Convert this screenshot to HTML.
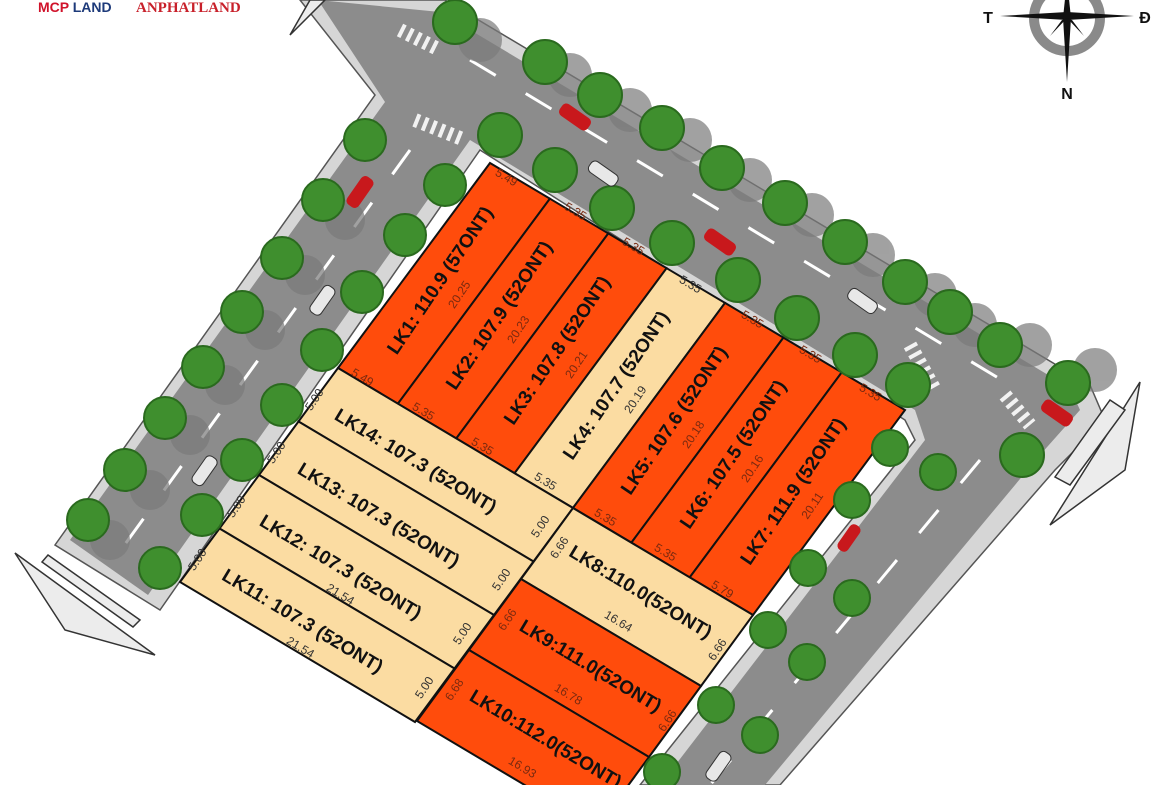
<!DOCTYPE html>
<html><head><meta charset="utf-8"><style>
html,body{margin:0;padding:0;background:#fff;width:1170px;height:785px;overflow:hidden}
svg{display:block}
.lb{font-family:"Liberation Sans",sans-serif;font-weight:bold;font-size:19px;fill:#111;text-anchor:middle;dominant-baseline:middle}
.dm{font-family:"Liberation Sans",sans-serif;font-size:12px;fill:#7a2a10;text-anchor:middle;dominant-baseline:middle}
.dk{font-family:"Liberation Sans",sans-serif;font-size:12px;fill:#333;text-anchor:middle;dominant-baseline:middle}
</style></head><body>
<svg width="1170" height="785" viewBox="0 0 1170 785" xmlns="http://www.w3.org/2000/svg">
<!-- roads: sidewalks -->
<g fill="#d6d6d6" stroke="#555" stroke-width="1.5">
<polygon points="300,0 445,0 1090,385 1105,420 1055,470 780,785 640,785 915,440 905,420 480,150 160,610 55,545 375,95"/>
</g>
<g fill="#8c8c8c">
<polygon points="318,0 440,12 1070,388 1080,410 1040,455 765,785 660,785 925,440 915,410 470,140 148,595 70,540 385,102"/>
</g>
<!-- lane dashes -->
<g stroke="#fff" stroke-width="3" stroke-dasharray="30 35" fill="none">
<line x1="410" y1="150" x2="110" y2="565"/>
<line x1="470" y1="60" x2="1010" y2="385"/>
<line x1="980" y1="460" x2="710" y2="785"/>
</g>
<!-- crosswalks -->
<g stroke="#f2f2f2" stroke-width="14" stroke-dasharray="4 5">
<line x1="415" y1="120" x2="465" y2="140"/>
<line x1="400" y1="30" x2="440" y2="50"/>
<line x1="910" y1="345" x2="935" y2="390"/>
<line x1="1005" y1="395" x2="1030" y2="425"/>
</g>
<!-- arrows -->
<g fill="#ececec" stroke="#333" stroke-width="1.5">
<polygon points="15,553 65,630 155,655"/>
<polygon points="48,555 140,620 133,627 42,562"/>
<polygon points="1140,382 1125,470 1050,525"/>
<polygon points="1110,400 1125,410 1070,485 1055,477"/>
<polygon points="290,35 325,0 310,0"/>
</g>
<!-- tree shadows -->
<g fill="#7a7a7a" opacity="0.7">
<circle cx="480" cy="40" r="22"/><circle cx="570" cy="75" r="22"/><circle cx="630" cy="110" r="22"/><circle cx="690" cy="140" r="22"/><circle cx="750" cy="180" r="22"/><circle cx="812" cy="215" r="22"/><circle cx="873" cy="255" r="22"/><circle cx="935" cy="295" r="22"/><circle cx="975" cy="325" r="22"/><circle cx="1030" cy="345" r="22"/><circle cx="1095" cy="370" r="22"/>
<circle cx="345" cy="220" r="20"/><circle cx="305" cy="275" r="20"/><circle cx="265" cy="330" r="20"/><circle cx="225" cy="385" r="20"/><circle cx="190" cy="435" r="20"/><circle cx="150" cy="490" r="20"/><circle cx="110" cy="540" r="20"/>
</g>
<!-- lots row A -->
<g stroke="#111" stroke-width="2">
<polygon fill="#ff4c0c" points="490,163 549.9,198.7 397.9,403.7 338,368"/>
<polygon fill="#ff4c0c" points="549.9,198.7 608.3,233.4 456.3,438.4 397.9,403.7"/>
<polygon fill="#ff4c0c" points="608.3,233.4 666.6,268.2 514.6,473.2 456.3,438.4"/>
<polygon fill="#fbdca2" points="666.6,268.2 725,302.9 573,507.9 514.6,473.2"/>
<polygon fill="#ff4c0c" points="725,302.9 783.4,337.6 631.4,542.6 573,507.9"/>
<polygon fill="#ff4c0c" points="783.4,337.6 841.7,372.4 689.7,577.4 631.4,542.6"/>
<polygon fill="#ff4c0c" points="841.7,372.4 905,410 753,615 689.7,577.4"/>
<polygon fill="#fbdca2" points="338,368 573,508 533.5,561.5 298.5,421.5"/>
<polygon fill="#fbdca2" points="298.5,421.5 533.5,561.5 494,615 259,475"/>
<polygon fill="#fbdca2" points="259,475 494,615 454.5,668.5 219.5,528.5"/>
<polygon fill="#fbdca2" points="219.5,528.5 454.5,668.5 415,722 180,582"/>
<polygon fill="#fbdca2" points="573,508 753,615 701,686 521,579"/>
<polygon fill="#ff4c0c" points="521,579 701,686 649,757 469,650"/>
<polygon fill="#ff4c0c" points="469,650 649,757 597,828 417,721"/>
</g>
<!-- trees -->
<g fill="#3f8f2e" stroke="#2a6a1e" stroke-width="2">
<circle cx="455" cy="22" r="22"/><circle cx="545" cy="62" r="22"/><circle cx="600" cy="95" r="22"/><circle cx="662" cy="128" r="22"/><circle cx="722" cy="168" r="22"/><circle cx="785" cy="203" r="22"/><circle cx="845" cy="242" r="22"/><circle cx="905" cy="282" r="22"/><circle cx="950" cy="312" r="22"/><circle cx="1000" cy="345" r="22"/><circle cx="1068" cy="383" r="22"/><circle cx="1022" cy="455" r="22"/>
<circle cx="500" cy="135" r="22"/><circle cx="555" cy="170" r="22"/><circle cx="612" cy="208" r="22"/><circle cx="672" cy="243" r="22"/><circle cx="738" cy="280" r="22"/><circle cx="797" cy="318" r="22"/><circle cx="855" cy="355" r="22"/><circle cx="908" cy="385" r="22"/>
<circle cx="365" cy="140" r="21"/><circle cx="323" cy="200" r="21"/><circle cx="282" cy="258" r="21"/><circle cx="242" cy="312" r="21"/><circle cx="203" cy="367" r="21"/><circle cx="165" cy="418" r="21"/><circle cx="125" cy="470" r="21"/><circle cx="88" cy="520" r="21"/>
<circle cx="445" cy="185" r="21"/><circle cx="405" cy="235" r="21"/><circle cx="362" cy="292" r="21"/><circle cx="322" cy="350" r="21"/><circle cx="282" cy="405" r="21"/><circle cx="242" cy="460" r="21"/><circle cx="202" cy="515" r="21"/><circle cx="160" cy="568" r="21"/>
<circle cx="890" cy="448" r="18"/><circle cx="938" cy="472" r="18"/><circle cx="852" cy="500" r="18"/><circle cx="808" cy="568" r="18"/><circle cx="852" cy="598" r="18"/><circle cx="768" cy="630" r="18"/><circle cx="807" cy="662" r="18"/><circle cx="716" cy="705" r="18"/><circle cx="760" cy="735" r="18"/><circle cx="662" cy="772" r="18"/>
</g>
<!-- cars -->
<g fill="#c8181c"><rect x="353" y="175" width="14" height="34" rx="5" transform="rotate(35 360 192)"/><rect x="568" y="100" width="14" height="34" rx="5" transform="rotate(-55 575 117)"/><rect x="713" y="225" width="14" height="34" rx="5" transform="rotate(-55 720 242)"/><rect x="1050" y="396" width="14" height="34" rx="5" transform="rotate(-55 1057 413)"/><rect x="843" y="523" width="12" height="30" rx="5" transform="rotate(35 849 538)"/></g>
<g fill="#e8e8e8" stroke="#333"><rect x="316" y="284" width="13" height="32" rx="5" transform="rotate(35 322 300)"/><rect x="198" y="455" width="13" height="32" rx="5" transform="rotate(35 205 471)"/><rect x="855" y="285" width="13" height="32" rx="5" transform="rotate(-55 862 300)"/><rect x="712" y="750" width="13" height="32" rx="5" transform="rotate(35 718 766)"/><rect x="597" y="158" width="13" height="32" rx="5" transform="rotate(-55 603 174)"/></g>
<!-- labels row A -->
<text class="lb" transform="translate(441,281) rotate(-56)">LK1: 110.9 (57ONT)</text>
<text class="lb" transform="translate(500,316) rotate(-56)">LK2: 107.9 (52ONT)</text>
<text class="lb" transform="translate(558,351) rotate(-56)">LK3: 107.8 (52ONT)</text>
<text class="lb" transform="translate(617,386) rotate(-56)">LK4: 107.7 (52ONT)</text>
<text class="lb" transform="translate(675,421) rotate(-56)">LK5: 107.6 (52ONT)</text>
<text class="lb" transform="translate(734,455) rotate(-56)">LK6: 107.5 (52ONT)</text>
<text class="lb" transform="translate(794,492) rotate(-56)">LK7: 111.9 (52ONT)</text>
<g class="dm">
<text class="dm" transform="translate(460,295) rotate(-56)">20.25</text>
<text class="dm" transform="translate(519,330) rotate(-56)">20.23</text>
<text class="dm" transform="translate(577,365) rotate(-56)">20.21</text>
<text class="dk" transform="translate(636,400) rotate(-56)">20.19</text>
<text class="dm" transform="translate(694,435) rotate(-56)">20.18</text>
<text class="dm" transform="translate(753,469) rotate(-56)">20.16</text>
<text class="dm" transform="translate(813,506) rotate(-56)">20.11</text>
<text class="dm" transform="translate(506,178) rotate(31)">5.49</text>
<text class="dm" transform="translate(575,212) rotate(31)">5.35</text>
<text class="dm" transform="translate(633,247) rotate(31)">5.35</text>
<text class="dk" transform="translate(690,285) rotate(31)">5.35</text>
<text class="dm" transform="translate(752,320) rotate(31)">5.35</text>
<text class="dm" transform="translate(810,355) rotate(31)">5.35</text>
<text class="dm" transform="translate(870,393) rotate(31)">5.35</text>
<text class="dm" transform="translate(362,378) rotate(31)">5.49</text>
<text class="dm" transform="translate(423,412) rotate(31)">5.35</text>
<text class="dm" transform="translate(482,447) rotate(31)">5.35</text>
<text class="dk" transform="translate(545,482) rotate(31)">5.35</text>
<text class="dm" transform="translate(605,518) rotate(31)">5.35</text>
<text class="dm" transform="translate(665,553) rotate(31)">5.35</text>
<text class="dm" transform="translate(722,590) rotate(31)">5.79</text>
</g>
<!-- lower labels -->
<text class="lb" transform="translate(415,462) rotate(31)">LK14: 107.3 (52ONT)</text>
<text class="lb" transform="translate(378,516) rotate(31)">LK13: 107.3 (52ONT)</text>
<text class="lb" transform="translate(340,568) rotate(31)">LK12: 107.3 (52ONT)</text>
<text class="lb" transform="translate(302,622) rotate(31)">LK11: 107.3 (52ONT)</text>
<text class="lb" transform="translate(640,593) rotate(31)">LK8:110.0(52ONT)</text>
<text class="lb" transform="translate(590,667) rotate(31)">LK9:111.0(52ONT)</text>
<text class="lb" transform="translate(545,740) rotate(31)">LK10:112.0(52ONT)</text>
<text class="dk" transform="translate(340,595) rotate(31)">21.54</text>
<text class="dk" transform="translate(300,648) rotate(31)">21.54</text>
<text class="dk" transform="translate(618,622) rotate(31)">16.64</text>
<text class="dm" transform="translate(568,695) rotate(31)">16.78</text>
<text class="dm" transform="translate(522,768) rotate(31)">16.93</text>
<g>
<text class="dk" transform="translate(315,400) rotate(-56)">5.00</text>
<text class="dk" transform="translate(277,453) rotate(-56)">5.00</text>
<text class="dk" transform="translate(237,507) rotate(-56)">5.00</text>
<text class="dk" transform="translate(198,560) rotate(-56)">5.00</text>
<text class="dk" transform="translate(541,527) rotate(-56)">5.00</text>
<text class="dk" transform="translate(502,580) rotate(-56)">5.00</text>
<text class="dk" transform="translate(463,634) rotate(-56)">5.00</text>
<text class="dk" transform="translate(425,688) rotate(-56)">5.00</text>
<text class="dk" transform="translate(560,548) rotate(-56)">6.66</text>
<text class="dm" transform="translate(508,620) rotate(-56)">6.66</text>
<text class="dm" transform="translate(455,690) rotate(-56)">6.68</text>
<text class="dk" transform="translate(718,650) rotate(-56)">6.66</text>
<text class="dm" transform="translate(668,721) rotate(-56)">6.66</text>
</g>
<!-- logos -->
<text x="38" y="12" font-family="Liberation Sans,sans-serif" font-weight="bold" font-size="14" fill="#d0122a">MCP <tspan fill="#1d3a7a">LAND</tspan></text>
<text x="136" y="12" font-family="Liberation Serif,serif" font-weight="bold" font-size="15" fill="#c8202a">ANPHATLAND</text>
<!-- compass -->
<circle cx="1067" cy="18" r="33" fill="none" stroke="#8a8a8a" stroke-width="10"/>
<g fill="#111">
<polygon points="1000,16 1067,12 1067,20"/>
<polygon points="1134,16 1067,12 1067,20"/>
<polygon points="1063,18 1071,18 1067,82"/>
<polygon points="1063,18 1071,18 1067,-20"/>
<polygon points="1067,18 1050,36 1062,20"/>
<polygon points="1067,18 1084,36 1072,20"/>
</g>
<text x="988" y="23" font-family="Liberation Sans,sans-serif" font-weight="bold" font-size="16" fill="#111" text-anchor="middle">T</text>
<text x="1145" y="23" font-family="Liberation Sans,sans-serif" font-weight="bold" font-size="16" fill="#111" text-anchor="middle">Đ</text>
<text x="1067" y="99" font-family="Liberation Sans,sans-serif" font-weight="bold" font-size="16" fill="#111" text-anchor="middle">N</text>
</svg>
</body></html>
